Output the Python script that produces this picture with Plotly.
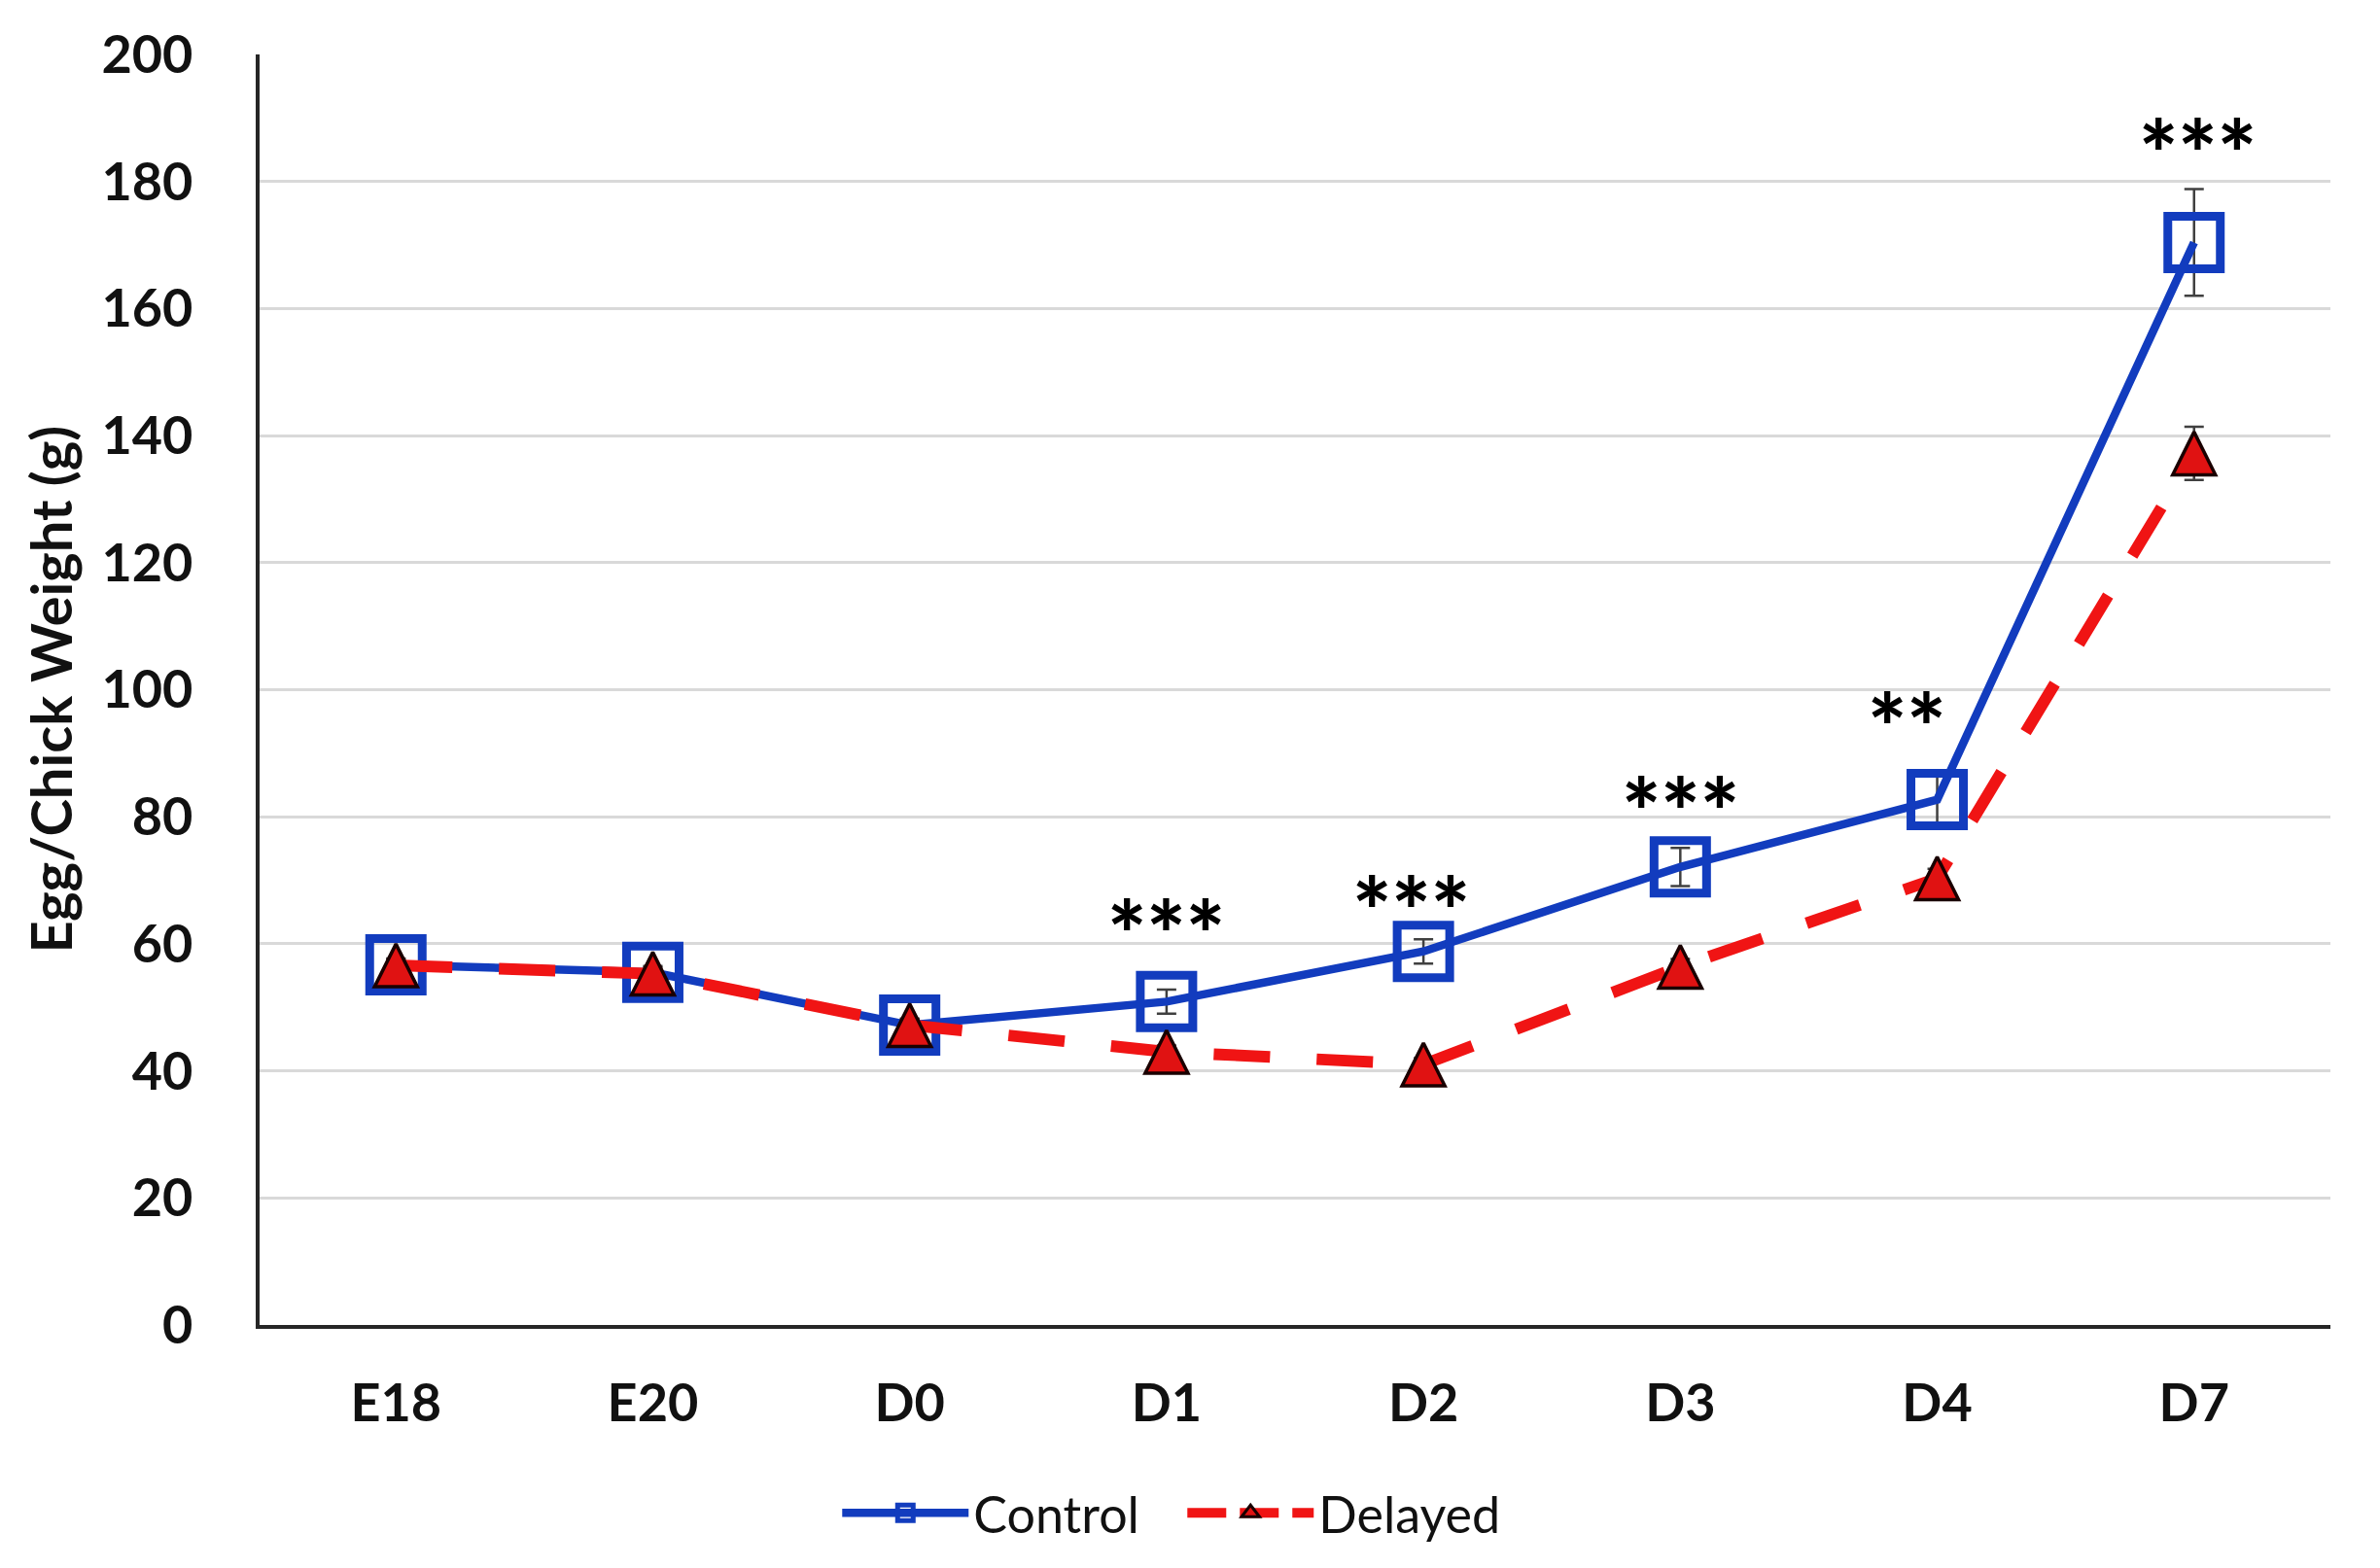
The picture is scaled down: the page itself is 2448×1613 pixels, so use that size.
import plotly.graph_objects as go

# ---- data ----
days = ["E18", "E20", "D0", "D1", "D2", "D3", "D4", "D7"]
control = [56.7, 55.5, 47.2, 50.9, 58.8, 72.1, 82.7, 170.4]
control_err = [1.0, 1.0, 1.0, 1.9, 1.9, 3.0, 4.5, 8.4]
delayed = [56.6, 55.3, 47.2, 43.0, 41.0, 56.4, 70.3, 137.2]
delayed_err = [1.0, 1.0, 1.0, 1.0, 1.0, 1.2, 1.5, 4.2]

sig_days = ["D1", "D2", "D3", "D4", "D7"]
sig_marks = ["***", "***", "***", "**", "***"]
sig_y = [63.6, 67.4, 82.9, 96.2, 186.6]

y_ticks = [0, 20, 40, 60, 80, 100, 120, 140, 160, 180, 200]

BLUE = "#123CBE"
RED = "#F01414"
TRI_FILL = "#E01212"
TRI_EDGE = "#1A0000"
FONT = "Lato"

fig = go.Figure()

fig.add_trace(go.Scatter(
    x=days, y=control, name="Control", mode="lines+markers",
    line=dict(color=BLUE, width=8.5),
    marker=dict(symbol="square-open", size=54, color=BLUE,
                line=dict(color=BLUE, width=9)),
    error_y=dict(type="data", array=control_err, visible=True,
                 color="#404040", thickness=2.5, width=10),
))

delayed_line = dict(color=RED, width=12, dash="58px,48px")

fig.add_trace(go.Scatter(
    x=days, y=delayed, name="Delayed", mode="lines+markers",
    line=delayed_line, showlegend=False,
    marker=dict(symbol="arrow-down", angle=180, standoff=22, size=44,
                color=TRI_FILL, line=dict(color=TRI_EDGE, width=3.5)),
    error_y=dict(type="data", array=delayed_err, visible=True,
                 color="#404040", thickness=2.5, width=10),
))

# legend entry for the Delayed series (no marks drawn)
fig.add_trace(go.Scatter(
    x=[None], y=[None], name="Delayed", mode="lines+markers",
    line=dict(color=RED, width=12, dash="40px,14px"),
    marker=dict(symbol="triangle-up", size=16, color=TRI_FILL,
                line=dict(color=TRI_EDGE, width=3)),
))

xshifts = {"D2": -13, "D4": -31, "D7": 4}
for d, m, yv in zip(sig_days, sig_marks, sig_y):
    fig.add_annotation(
        x=d, y=yv, xref="x", yref="y", text=m, showarrow=False,
        xanchor="center", yanchor="middle", xshift=xshifts.get(d, 0), yshift=-13,
        font=dict(family=FONT, size=95, color="#000000", weight=900),
    )

fig.add_annotation(
    x=0, y=0.5, xref="paper", yref="paper", xshift=-216,
    text="Egg/Chick Weight (g)", textangle=-90, showarrow=False,
    xanchor="center", yanchor="middle",
    font=dict(family=FONT, size=58, color="#111111", weight="bold"),
)

fig.update_layout(
    width=2448, height=1613,
    margin=dict(l=259, r=59, t=48, b=258),
    paper_bgcolor="white", plot_bgcolor="white",
    showlegend=True,
    legend=dict(
        orientation="h", x=0.279, xanchor="left", y=-0.148, yanchor="middle",
        font=dict(family=FONT, size=52, color="#111111"),
        itemwidth=130, entrywidth=210, entrywidthmode="pixels",
        bgcolor="rgba(0,0,0,0)",
    ),
    xaxis=dict(
        type="category", categoryorder="array", categoryarray=days,
        showline=True, linecolor="#262626", linewidth=4,
        showgrid=False, ticks="", ticklabelstandoff=30,
        tickfont=dict(family=FONT, size=54, color="#111111", weight="bold"),
        zeroline=False,
    ),
    yaxis=dict(
        range=[0, 200], tickvals=y_ticks, ticktext=[str(v) for v in y_ticks],
        showline=True, linecolor="#262626", linewidth=3.5,
        showgrid=True, gridcolor="#D9D9D9", gridwidth=3,
        ticks="", ticklabelstandoff=54, zeroline=False,
        tickfont=dict(family=FONT, size=54, color="#111111", weight="bold"),
    ),
)

fig.write_html("out.html")
